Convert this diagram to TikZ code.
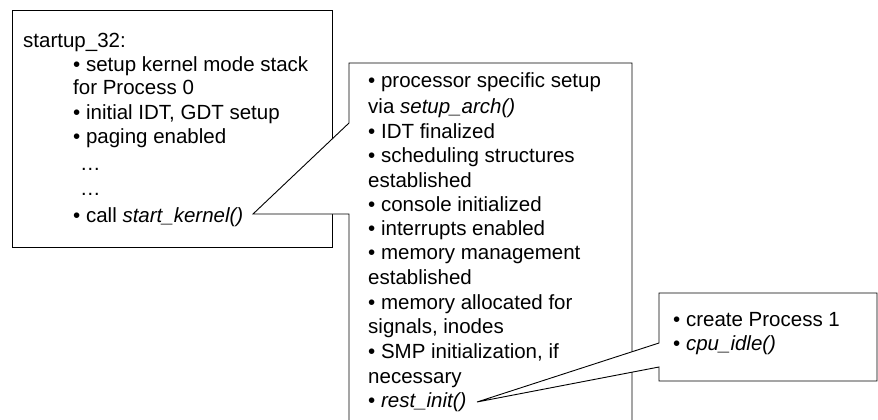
\documentclass[tikz,border=0pt]{standalone}
\usepackage{fontspec}
\setmainfont{Liberation Sans}
\tikzset{
  boxline/.style={draw=black, line width=0.9pt, fill=white, line join=miter},
  txt/.style={anchor=base west, inner sep=0pt, font=\fontsize{20.5}{24}\selectfont, text=black}
}
\begin{document}
\begin{tikzpicture}[x=1pt,y=-1pt]
\useasboundingbox (0,0) rectangle (878,420);
% box 1
\draw[boxline] (12,10) rectangle (332,247);
\node[txt] (a0) at (23,48) {startup\_32:};
\node[txt] (a1) at (73,71) {• setup kernel mode stack};
\node[txt] (a2) at (73,95) {for Process 0};
\node[txt] (a3) at (73,119) {• initial IDT, GDT setup};
\node[txt] (a4) at (73,143) {• paging enabled};
\node[txt] (a5) at (80,170) {…};
\node[txt] (a6) at (80,195) {…};
\node[txt] (a7) at (73,222) {• call \textit{start\_kernel()}};
% callout 2
\coordinate (t2) at (253,214);
\draw[boxline] (349,123) -- (349,63) -- (632,63) -- (632,425) -- (349,425) -- (349,214) -- (t2) -- cycle;
\node[txt] (b0) at (368,88) {• processor specific setup};
\node[txt] (b1) at (368,113) {via \textit{setup\_arch()}};
\node[txt] (b2) at (368,138) {• IDT finalized};
\node[txt] (b3) at (368,162) {• scheduling structures};
\node[txt] (b4) at (368,187) {established};
\node[txt] (b5) at (368,211) {• console initialized};
\node[txt] (b6) at (368,235) {• interrupts enabled};
\node[txt] (b7) at (368,259) {• memory management};
\node[txt] (b8) at (368,284) {established};
\node[txt] (b9) at (368,309) {• memory allocated for};
\node[txt] (b10) at (368,333) {signals, inodes};
\node[txt] (b11) at (368,358) {• SMP initialization, if};
\node[txt] (b12) at (368,383) {necessary};
\node[txt] (b13) at (368,407) {• \textit{rest\_init()}};
% callout 3
\coordinate (t3) at (477,402);
\draw[boxline] (659,343) -- (659,293) -- (877,293) -- (877,381) -- (659,381) -- (659,367) -- (t3) -- cycle;
\node[txt] (c0) at (673,326) {• create Process 1};
\node[txt] (c1) at (673,350) {• \textit{cpu\_idle()}};
\end{tikzpicture}
\end{document}
